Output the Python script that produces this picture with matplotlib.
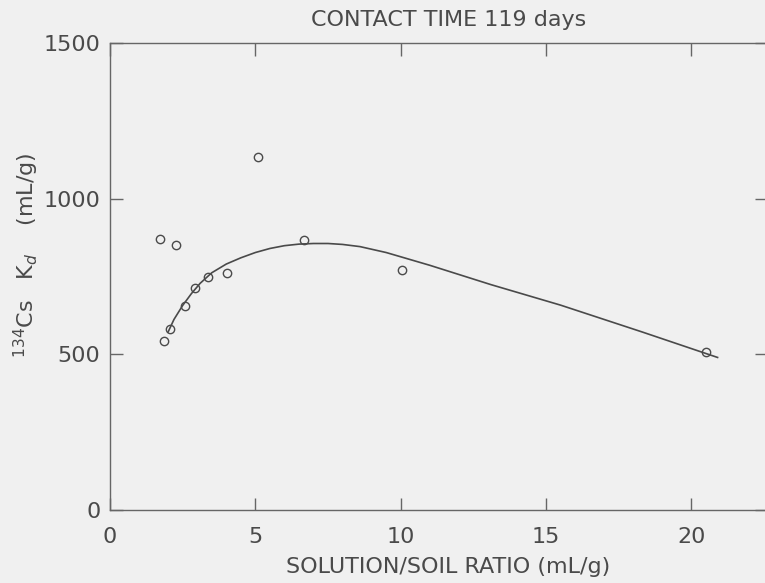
import numpy as np
import matplotlib
matplotlib.use('Agg')
import matplotlib.pyplot as plt

# measured Kd values (open circles)
ratio = [1.73, 2.28, 1.87, 2.07, 2.57, 2.94, 3.38, 4.04, 5.08, 6.67, 10.05, 20.5]
kd = [870, 850, 542, 582, 655, 712, 749, 762, 1135, 868, 772, 508]

# hand-drawn fit curve
fit_x = [2.0, 2.2, 2.5, 2.8, 3.1, 3.5, 4.0, 4.5, 5.0, 5.5, 6.0, 6.5, 7.0, 7.5,
         8.0, 8.6, 9.5, 11.0, 13.1, 15.5, 18.3, 20.9]
fit_y = [572, 612, 657, 695, 728, 762, 790, 810, 827, 840, 849, 854, 856, 856,
         853, 846, 827, 786, 724, 658, 572, 490]

xticks = [0, 5, 10, 15, 20]
yticks = [0, 500, 1000, 1500]

ink = '#4a4a4a'
plt.rcParams['font.family'] = 'DejaVu Sans'

fig = plt.figure(figsize=(7.65, 5.83), dpi=100, facecolor='#f0f0f0')
W, H = 765, 583
ax = fig.add_axes([110 / W, 1 - 510 / H, (767 - 110) / W, (510 - 43) / H])
ax.set_facecolor('#f0f0f0')

ax.plot(fit_x, fit_y, color=ink, lw=1.2)
ax.plot(ratio, kd, 'o', mfc='none', mec=ink, ms=6, mew=1.0)

ax.set_xlim(0, 22.6)
ax.set_ylim(0, 1500)
ax.set_xticks(xticks)
ax.set_yticks(yticks)
ax.tick_params(direction='in', length=9, width=1, color='#666666',
               labelcolor=ink, labelsize=16, top=True, right=True)
ax.tick_params(axis='x', pad=12)
ax.tick_params(axis='y', pad=7)
for s in ax.spines.values():
    s.set_color('#666666')
    s.set_linewidth(1)

ax.set_xlabel('SOLUTION/SOIL RATIO (mL/g)', fontsize=16, color=ink)
ax.xaxis.set_label_coords(0.515, -0.1)
ax.set_ylabel(r'$^{134}$Cs   K$_d$    (mL/g)', fontsize=16, color=ink)
ax.yaxis.set_label_coords(-0.105, 0.545)
ax.set_title('CONTACT TIME 119 days', fontsize=16, color=ink, pad=12, x=0.515)

fig.savefig('out.png', dpi=100, facecolor=fig.get_facecolor())
